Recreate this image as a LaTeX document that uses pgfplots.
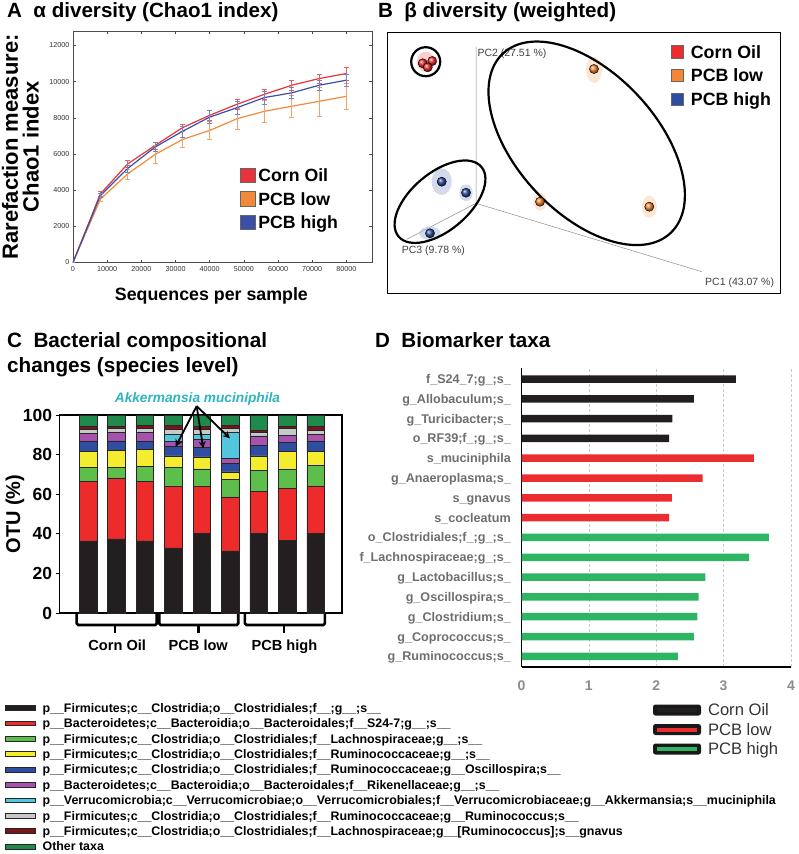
\documentclass[border=0pt]{standalone}
\usepackage{fontspec}
\setmainfont{Liberation Sans}
\usepackage{pgfplots}
\pgfplotsset{compat=1.18}
\usetikzlibrary{arrows.meta}
\newcommand\fs[1]{\fontsize{#1}{#1}\selectfont}
\definecolor{aRed}{HTML}{E8333B}
\definecolor{aOrange}{HTML}{F28A3C}
\definecolor{aBlue}{HTML}{3A4FA6}
\definecolor{kBlack}{HTML}{231F20}
\definecolor{kRed}{HTML}{EE2B2B}
\definecolor{kGreen}{HTML}{5DBE4C}
\definecolor{kYellow}{HTML}{F3EC2F}
\definecolor{kBlue}{HTML}{2F4EA2}
\definecolor{kPurple}{HTML}{A653AE}
\definecolor{kCyan}{HTML}{51C6DC}
\definecolor{kGray}{HTML}{C9C9C9}
\definecolor{kDRed}{HTML}{7B1518}
\definecolor{kDGreen}{HTML}{1F8A4C}
\definecolor{tealA}{HTML}{2EB4C1}
\definecolor{dBlack}{HTML}{231F20}
\definecolor{dRed}{HTML}{EC2D2F}
\definecolor{dGreen}{HTML}{2DB563}
\definecolor{labGray}{HTML}{6E6E6E}
\definecolor{bRed}{HTML}{EE2C2C}
\definecolor{bOrange}{HTML}{F58634}
\definecolor{bBlue}{HTML}{2D4DA0}
\pgfplotsset{
  sqleg/.style={legend image code/.code={\draw[fill=#1, draw=black!60, line width=0.5pt] (0pt,-7.2pt) rectangle (14.4pt,7.2pt);}},
  sqlegB/.style={legend image code/.code={\draw[fill=#1, draw=black!60, line width=0.5pt] (0pt,-6.2pt) rectangle (12.4pt,6.2pt);}},
  barleg/.style={legend image code/.code={\draw[fill=#1, draw=black!85, line width=0.6pt] (0pt,-2.4pt) rectangle (30pt,2.4pt);}},
  dleg/.style={legend image code/.code={\fill[black!90, rounded corners=2.5pt] (0pt,-5.5pt) rectangle (48pt,5.5pt); \fill[#1] (4pt,-2pt) rectangle (44pt,2pt);}},
  panelC/.style={at={(59.6pt,-613pt)}, anchor=south west, scale only axis, width=282.4pt, height=198pt, xmin=0, xmax=9.93, ymin=0, ymax=100, clip=false},
}
\begin{document}
\begin{tikzpicture}
\path[use as bounding box] (0pt,0pt) rectangle (798pt,-854pt);

% ---------- titles ----------
\node[anchor=base west, inner sep=0pt, font=\fs{20.6}\bfseries] at (7pt,-17.3pt) {A\hspace{0.55em}α diversity (Chao1 index)};
\node[anchor=base west, inner sep=0pt, font=\fs{20.6}\bfseries] at (378pt,-17.3pt) {B\hspace{0.55em}β diversity (weighted)};
\node[anchor=base west, inner sep=0pt, font=\fs{20.7}\bfseries] at (7pt,-347pt) {C\hspace{0.55em}Bacterial compositional};
\node[anchor=base west, inner sep=0pt, font=\fs{20.7}\bfseries] at (7pt,-372pt) {changes (species level)};
\node[anchor=base west, inner sep=0pt, font=\fs{20.6}\bfseries] at (375pt,-347pt) {D\hspace{0.55em}Biomarker taxa};

% ---------- Panel A ----------
\begin{axis}[
  at={(73pt,-262.5pt)}, anchor=south west,
  scale only axis, width=299pt, height=231.5pt,
  xmin=0, xmax=87500, ymin=0, ymax=12800,
  xtick={0,10000,...,80000}, ytick={0,2000,...,12000},
  scaled ticks=false,
  /pgf/number format/set thousands separator={},
  /pgf/number format/assume math mode=true,
  tick label style={font=\fs{7.2}, text=black!80},
  tick align=inside, major tick length=3pt,
  tick style={black!70, line width=0.5pt},
  axis line style={black!70, line width=0.8pt},
  xlabel={Sequences per sample},
  xlabel style={font=\fs{17.8}\bfseries, at={(axis description cs:0.463,-0.162)}, anchor=base},
  ylabel={Rarefaction measure:\\Chao1 index},
  ylabel style={font=\fontsize{22}{20.8}\selectfont\bfseries, align=center, at={(axis description cs:-0.176,0.5)}, anchor=center},
  legend style={at={(axis description cs:0.560,0.427)}, anchor=north west, draw=none, fill=none, inner sep=0pt, outer sep=0pt, column sep=3pt, font=\fs{17.7}\bfseries, nodes={inner sep=0pt, text height=18.1pt, text depth=5.4pt}},
  legend cell align=left,
]
\addplot[aRed, line width=1.2pt, sqleg=aRed, error bars/.cd, y dir=both, y explicit, error bar style={line width=0.6pt, aRed!80}, error mark options={rotate=90, mark size=2.5pt, line width=0.6pt, aRed!80}]
 coordinates {(0,0) +- (0,0) (8000,3790) +- (0,150) (16000,5450) +- (0,200) (24000,6470) +- (0,200) (32000,7450) +- (0,200) (40000,8140) +- (0,250) (48000,8750) +- (0,300) (56000,9300) +- (0,300) (64000,9800) +- (0,300) (72000,10170) +- (0,250) (80000,10450) +- (0,350)};
\addlegendentry{Corn Oil}
\addplot[aOrange, line width=1.2pt, sqleg=aOrange, error bars/.cd, y dir=both, y explicit, error bar style={line width=0.6pt, aOrange!80}, error mark options={rotate=90, mark size=2.5pt, line width=0.6pt, aOrange!80}]
 coordinates {(0,0) +- (0,0) (8000,3500) +- (0,120) (16000,4900) +- (0,280) (24000,5970) +- (0,500) (32000,6800) +- (0,450) (40000,7300) +- (0,500) (48000,7950) +- (0,600) (56000,8360) +- (0,600) (64000,8640) +- (0,600) (72000,8910) +- (0,800) (80000,9190) +- (0,700)};
\addlegendentry{PCB low}
\addplot[aBlue, line width=1.2pt, sqleg=aBlue, error bars/.cd, y dir=both, y explicit, error bar style={line width=0.6pt, aBlue!70}, error mark options={rotate=90, mark size=2.5pt, line width=0.6pt, aBlue!70}]
 coordinates {(0,0) +- (0,0) (8000,3700) +- (0,100) (16000,5200) +- (0,200) (24000,6380) +- (0,250) (32000,7250) +- (0,300) (40000,8040) +- (0,350) (48000,8560) +- (0,350) (56000,9120) +- (0,350) (64000,9380) +- (0,300) (72000,9800) +- (0,300) (80000,10080) +- (0,350)};
\addlegendentry{PCB high}
\end{axis}

% ---------- Panel B ----------
\begin{axis}[
  at={(387pt,-293pt)}, anchor=south west,
  scale only axis, width=393pt, height=261pt,
  xmin=0, xmax=393, ymin=0, ymax=261, xtick=\empty, ytick=\empty,
  axis line style={black, line width=0.9pt}, clip=false,
  legend style={at={(axis description cs:0.7226,0.970)}, anchor=north west, draw=none, fill=none, inner sep=0pt, outer sep=0pt, column sep=7pt, font=\fs{17.8}\bfseries, nodes={inner sep=0pt, text height=18.25pt, text depth=5.45pt}},
  legend cell align=left,
]
\addplot[forget plot, black!45, line width=0.5pt] coordinates {(89,246.3) (89,89.7) (314.7,21.3)};
\addplot[forget plot, black!45, line width=0.5pt] coordinates {(89,89.7) (19.7,53.7)};
\node[anchor=base west, inner sep=0pt, font=\fs{10.5}, text=black!75] at (axis cs:90.3,236.3) {PC2 (27.51 \%)};
\node[anchor=base west, inner sep=0pt, font=\fs{10.5}, text=black!75] at (axis cs:14.7,39.7) {PC3 (9.78 \%)};
\node[anchor=base west, inner sep=0pt, font=\fs{10.5}, text=black!75] at (axis cs:318,8) {PC1 (43.07 \%)};
% hazes
\fill[bRed!40, opacity=0.6] (axis cs:38.8,231.3) ellipse [x radius=9pt, y radius=10pt];
\fill[bOrange!35, opacity=0.6] (axis cs:207,223) ellipse [x radius=8pt, y radius=13pt];
\fill[bOrange!35, opacity=0.6] (axis cs:153,91.3) ellipse [x radius=6.7pt, y radius=9pt];
\fill[bOrange!35, opacity=0.6] (axis cs:262.3,86.3) ellipse [x radius=7.5pt, y radius=11pt];
\fill[bBlue!35, opacity=0.6] (axis cs:54.7,111.3) ellipse [x radius=10pt, y radius=13.3pt];
\fill[bBlue!35, opacity=0.6] (axis cs:79,100.3) ellipse [x radius=6.7pt, y radius=8.3pt];
\fill[bBlue!35, opacity=0.6] (axis cs:43,59.7) ellipse [x radius=10.8pt, y radius=6.7pt];
% balls
\addplot[only marks, mark=ball, mark size=4.6pt, mark options={ball color=bRed}, sqlegB=bRed] coordinates {(35.7,229.7) (45.3,232) (40.7,225.7)};
\addlegendentry{Corn Oil}
\addplot[only marks, mark=ball, mark size=4.6pt, mark options={ball color=bOrange}, sqlegB=bOrange] coordinates {(207,224) (153,91.3) (262.3,86.3)};
\addlegendentry{PCB low}
\addplot[only marks, mark=ball, mark size=4.6pt, mark options={ball color=bBlue}, sqlegB=bBlue] coordinates {(54.7,111.3) (79,100.3) (43,59.7)};
\addlegendentry{PCB high}
% cluster outlines
\draw[line width=2.2pt] (axis cs:38.7,231.3) circle [radius=14.5pt];
\draw[line width=2.2pt, rotate around={-47:(axis cs:199.7,149.7)}] (axis cs:199.7,149.7) ellipse [x radius=122.8pt, y radius=70.1pt];
\draw[line width=2.2pt, rotate around={40:(axis cs:53,91.3)}] (axis cs:53,91.3) ellipse [x radius=54.1pt, y radius=28.9pt];
\end{axis}

% ---------- Panel C ----------
\begin{axis}[
  panelC,
  ybar stacked, bar width=17.5pt,
  xtick=\empty, ytick={0,20,...,100},
  ytick pos=left, tick align=outside, major tick length=4pt,
  tick style={black, line width=0.9pt},
  axis line style={black, line width=1.1pt},
  /pgf/number format/assume math mode=true,
  yticklabel style={font=\fs{17.5}\bfseries},
  ylabel={OTU (\%)},
  ylabel style={font=\fs{20}\bfseries, at={(axis description cs:-0.158,0.5)}, anchor=center},
  every axis plot/.append style={draw=black!85, line width=0.5pt},
  legend style={at={(axis description cs:-0.1933,-0.4407)}, anchor=north west, draw=none, fill=none, inner sep=0pt, outer sep=0pt, column sep=7pt, font=\fs{12.4}\bfseries, nodes={inner sep=0pt, text height=12.1pt, text depth=3.3pt}},
  legend cell align=left,
]
\addplot[fill=kBlack, barleg=kBlack] coordinates {(1,36.4) (2,37.4) (3,36.4) (4,32.9) (5,40.1) (6,31.4) (7,40.1) (8,36.8) (9,40.1)};
\addlegendentry{p\_\_Firmicutes;c\_\_Clostridia;o\_\_Clostridiales;f\_\_;g\_\_;s\_\_}
\addplot[fill=kRed, barleg=kRed] coordinates {(1,29.9) (2,30.9) (3,29.9) (4,31.0) (5,23.8) (6,27.3) (7,21.5) (8,26.1) (9,24.1)};
\addlegendentry{p\_\_Bacteroidetes;c\_\_Bacteroidia;o\_\_Bacteroidales;f\_\_S24-7;g\_\_;s\_\_}
\addplot[fill=kGreen, barleg=kGreen] coordinates {(1,7.1) (2,5.2) (3,7.9) (4,9.8) (5,8.9) (6,8.8) (7,10.6) (8,9.6) (9,10.2)};
\addlegendentry{p\_\_Firmicutes;c\_\_Clostridia;o\_\_Clostridiales;f\_\_Lachnospiraceae;g\_\_;s\_\_}
\addplot[fill=kYellow, barleg=kYellow] coordinates {(1,8.4) (2,8.8) (3,8.4) (4,5.6) (5,6.1) (6,3.8) (7,7.2) (8,9.0) (9,7.1)};
\addlegendentry{p\_\_Firmicutes;c\_\_Clostridia;o\_\_Clostridiales;f\_\_Ruminococcaceae;g\_\_;s\_\_}
\addplot[fill=kBlue, barleg=kBlue] coordinates {(1,4.7) (2,4.7) (3,4.2) (4,5.0) (5,4.6) (6,4.2) (7,5.4) (8,4.5) (9,5.3)};
\addlegendentry{p\_\_Firmicutes;c\_\_Clostridia;o\_\_Clostridiales;f\_\_Ruminococcaceae;g\_\_Oscillospira;s\_\_}
\addplot[fill=kPurple, barleg=kPurple] coordinates {(1,4.2) (2,4.1) (3,4.3) (4,2.2) (5,4.2) (6,2.6) (7,4.6) (8,3.9) (9,3.4)};
\addlegendentry{p\_\_Bacteroidetes;c\_\_Bacteroidia;o\_\_Bacteroidales;f\_\_Rikenellaceae;g\_\_;s\_\_}
\addplot[fill=kCyan, barleg=kCyan] coordinates {(1,0.2) (2,0.2) (3,0.2) (4,3.9) (5,2.7) (6,13.0) (7,0.1) (8,0.1) (9,0.1)};
\addlegendentry{p\_\_Verrucomicrobia;c\_\_Verrucomicrobiae;o\_\_Verrucomicrobiales;f\_\_Verrucomicrobiaceae;g\_\_Akkermansia;s\_\_muciniphila}
\addplot[fill=kGray, barleg=kGray] coordinates {(1,2.0) (2,1.8) (3,1.8) (4,2.5) (5,2.3) (6,2.2) (7,1.9) (8,3.1) (9,2.1)};
\addlegendentry{p\_\_Firmicutes;c\_\_Clostridia;o\_\_Clostridiales;f\_\_Ruminococcaceae;g\_\_Ruminococcus;s\_\_}
\addplot[fill=kDRed, barleg=kDRed] coordinates {(1,1.2) (2,1.0) (3,1.5) (4,1.7) (5,1.4) (6,1.3) (7,0.7) (8,1.0) (9,1.7)};
\addlegendentry{p\_\_Firmicutes;c\_\_Clostridia;o\_\_Clostridiales;f\_\_Lachnospiraceae;g\_\_[Ruminococcus];s\_\_gnavus}
\addplot[fill=kDGreen, barleg=kDGreen] coordinates {(1,5.9) (2,5.9) (3,5.4) (4,5.4) (5,5.9) (6,5.4) (7,7.9) (8,5.9) (9,5.9)};
\addlegendentry{Other taxa}
% group brackets
\draw[line width=2.6pt, rounded corners=1.5pt] (axis cs:0.601,-0.25) -- (axis cs:0.601,-6.06) -- (axis cs:3.413,-6.06) -- (axis cs:3.413,-0.25);
\draw[line width=2.6pt] (axis cs:1.947,-6.06) -- (axis cs:1.947,-10.1);
\draw[line width=2.6pt, rounded corners=1.5pt] (axis cs:3.504,-0.25) -- (axis cs:3.504,-6.06) -- (axis cs:6.281,-6.06) -- (axis cs:6.281,-0.25);
\draw[line width=2.6pt] (axis cs:4.875,-6.06) -- (axis cs:4.875,-10.1);
\draw[line width=2.6pt, rounded corners=1.5pt] (axis cs:6.517,-0.25) -- (axis cs:6.517,-6.06) -- (axis cs:9.328,-6.06) -- (axis cs:9.328,-0.25);
\draw[line width=2.6pt] (axis cs:7.888,-6.06) -- (axis cs:7.888,-10.1);
\node[anchor=base, inner sep=0pt, font=\fs{14.6}\bfseries] at (axis cs:2.025,-18.7) {Corn Oil};
\node[anchor=base, inner sep=0pt, font=\fs{14.6}\bfseries] at (axis cs:4.875,-18.7) {PCB low};
\node[anchor=base, inner sep=0pt, font=\fs{14.6}\bfseries] at (axis cs:7.905,-18.7) {PCB high};
% Akkermansia annotation
\node[anchor=base, inner sep=0pt, font=\fs{13.7}\bfseries\itshape, text=tealA] at (axis cs:4.848,106.2) {Akkermansia muciniphila};
\end{axis}
% overlay axis for the arrows (drawn on top of the bars)
\begin{axis}[panelC, hide axis]
\addplot[black, line width=1.8pt, -{Stealth[length=7pt,width=7pt]}] coordinates {(4.819,104.5) (4.081,84.0)};
\addplot[black, line width=1.8pt, -{Stealth[length=7pt,width=7pt]}] coordinates {(4.819,104.5) (5.051,83.2)};
\addplot[black, line width=1.8pt, -{Stealth[length=7pt,width=7pt]}] coordinates {(4.819,104.5) (5.989,88.2)};
\end{axis}

% ---------- Panel D ----------
\begin{axis}[
  at={(521.5pt,-667pt)}, anchor=south west,
  scale only axis, width=269.5pt, height=299pt,
  xbar, bar width=7.5pt, /pgf/bar shift=0pt,
  xmin=0, xmax=4, ymin=0.46, ymax=15.556,
  axis x line*=bottom, axis y line*=left,
  axis line style={black, line width=1.1pt, -},
  xtick={0,1,2,3,4}, ytick={1,...,15},
  yticklabels={g\_Ruminococcus;s\_, g\_Coprococcus;s\_, g\_Clostridium;s\_, g\_Oscillospira;s\_, g\_Lactobacillus;s\_, f\_Lachnospiraceae;g\_;s\_, o\_Clostridiales;f\_;g\_;s\_, s\_cocleatum, s\_gnavus, g\_Anaeroplasma;s\_, s\_muciniphila, o\_RF39;f\_;g\_;s\_, g\_Turicibacter;s\_, g\_Allobaculum;s\_, f\_S24\_7;g\_;s\_},
  major tick length=0pt,
  xmajorgrids, grid style={densely dashed, black!20, line width=0.5pt},
  /pgf/number format/assume math mode=true,
  xticklabel style={font=\fs{14}\bfseries, text=black!45, anchor=base, yshift=-23pt},
  yticklabel style={font=\fs{12.6}\bfseries, text=labGray, inner sep=0pt, xshift=-10.5pt, text height=10.5pt, text depth=1.5pt},
  legend style={at={(axis description cs:0.488,-0.1112)}, anchor=north west, draw=none, fill=none, inner sep=0pt, outer sep=0pt, column sep=7pt, font=\fs{16.6}, text=black!80, nodes={inner sep=0pt, text height=15.7pt, text depth=3.8pt}},
  legend cell align=left,
]
\addplot[fill=dBlack, draw=none, dleg=dBlack] coordinates {(3.18,15) (2.56,14) (2.24,13) (2.19,12)};
\addlegendentry{Corn Oil}
\addplot[fill=dRed, draw=none, dleg=dRed] coordinates {(3.45,11) (2.69,10) (2.23,9) (2.19,8)};
\addlegendentry{PCB low}
\addplot[fill=dGreen, draw=none, dleg=dGreen] coordinates {(3.67,7) (3.38,6) (2.73,5) (2.63,4) (2.61,3) (2.56,2) (2.32,1)};
\addlegendentry{PCB high}
\end{axis}
\end{tikzpicture}
\end{document}
